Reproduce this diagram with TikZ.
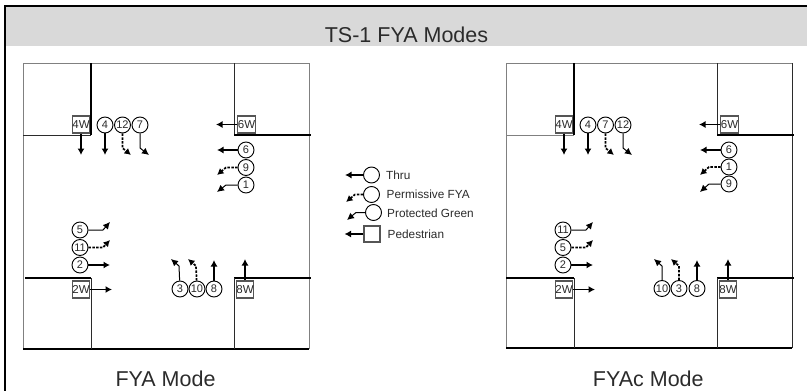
\documentclass[tikz,border=0pt]{standalone}
\usepackage{fontspec}
\setmainfont{Liberation Sans}
\usetikzlibrary{arrows.meta}
\definecolor{bandgray}{HTML}{D9D9D9}
\definecolor{inkgray}{HTML}{2B2B2B}
\definecolor{edgegray}{HTML}{808080}
\definecolor{boxgray}{HTML}{555555}
\tikzset{
    signal/.style={circle, draw=black, line width=0.9pt, fill=white, minimum size=16pt, inner sep=0pt, text=inkgray, font=\fontsize{11}{13}\selectfont},
    walk/.style={rectangle, draw=boxgray, line width=1.2pt, fill=white, minimum size=17pt, inner sep=0pt, text=inkgray, font=\fontsize{11.5}{13}\selectfont},
    thru/.style={line width=1.9pt, -{Latex[length=6.5pt,width=7pt]}},
    permissive/.style={line width=1.7pt, dash pattern=on 2.5pt off 1.3pt, -{Latex[length=6.5pt,width=7pt]}},
    protected/.style={line width=1pt, -{Latex[length=7pt,width=7pt]}},
    heavywall/.style={line width=1.7pt, black},
    lightwall/.style={line width=1pt, inkgray},
    paleedge/.style={line width=1pt, edgegray},
    legendtext/.style={anchor=west, inner sep=0pt, text=inkgray, font=\fontsize{11.8}{14}\selectfont},
    captiontext/.style={text=inkgray, font=\fontsize{21.5}{25}\selectfont}
}
\begin{document}
\begin{tikzpicture}[x=1pt, y=-1pt]
    \useasboundingbox (0,0) rectangle (807,391);

    \fill [bandgray] (6,7) rectangle (807,46);
    \draw [line width=2pt, black] (5,391) -- (5,6) -- (807,6);
    \node [captiontext] (title) at (406.5,34.5) {TS-1 FYA Modes};

    % left intersection
    \begin{scope}[name prefix=fya-]
        \draw [paleedge] (23,349) -- (23,63) -- (309,63) -- (309,349);
        \draw [heavywall] (23,349) -- (309,349);
        \draw [heavywall] (91,63) -- (91,135);
        \draw [lightwall] (23,135) -- (91,135);
        \draw [lightwall] (234,63) -- (234,135);
        \draw [heavywall] (234,135) -- (311,135);
        \draw [heavywall] (25,278) -- (91,278);
        \draw [heavywall] (234,278) -- (311,278);
        \draw [lightwall] (91,278) -- (91,349);
        \draw [lightwall] (234,278) -- (234,349);

        \node [walk] (w4) at (81,124.5) {4W};
        \node [walk] (w6) at (246.5,124.5) {6W};
        \node [walk] (w2) at (81,289.5) {2W};
        \node [walk] (w8) at (245,289.5) {8W};

        \node [signal] (four) at (105,125) {4};
        \node [signal] (twelve) at (122.5,125) {12};
        \node [signal] (seven) at (140,125) {7};
        \node [signal] (six) at (246,150) {6};
        \node [signal] (nine) at (246,167.5) {9};
        \node [signal] (one) at (246,185) {1};
        \node [signal] (five) at (80,230) {5};
        \node [signal] (eleven) at (80,247.5) {11};
        \node [signal] (two) at (80,265) {2};
        \node [signal] (three) at (180,289) {3};
        \node [signal] (ten) at (197,289) {10};
        \node [signal] (eight) at (214,289) {8};

        \coordinate (w4end) at (81,155);
        \coordinate (w6end) at (216,124.5);
        \coordinate (w2end) at (112,289.5);
        \coordinate (w8end) at (245,259);
        \coordinate (fourend) at (105,155);
        \coordinate (twelvebend) at (122.5,148);
        \coordinate (twelveend) at (131,155);
        \coordinate (sevenbend) at (140,148);
        \coordinate (sevenend) at (149,155);
        \coordinate (sixend) at (217,150);
        \coordinate (ninebend) at (226,167.5);
        \coordinate (nineend) at (217,175);
        \coordinate (onebend) at (226,185);
        \coordinate (oneend) at (217,192);
        \coordinate (fivebend) at (103,230);
        \coordinate (fiveend) at (110,222);
        \coordinate (elevenbend) at (103,247.5);
        \coordinate (elevenend) at (110,240);
        \coordinate (twoend) at (110,265);
        \coordinate (threebend) at (179,266);
        \coordinate (threeend) at (171,259);
        \coordinate (tenbend) at (196,266);
        \coordinate (tenend) at (188,259);
        \coordinate (eightend) at (214,260);

        \draw [thru] (w4) -- (w4end);
        \draw [thru] (w6) -- (w6end);
        \draw [thru] (w2) -- (w2end);
        \draw [thru] (w8) -- (w8end);
        \draw [thru] (four) -- (fourend);
        \draw [permissive] (twelve) -- (twelvebend) -- (twelveend);
        \draw [protected] (seven) -- (sevenbend) -- (sevenend);
        \draw [thru] (six) -- (sixend);
        \draw [permissive] (nine) -- (ninebend) -- (nineend);
        \draw [protected] (one) -- (onebend) -- (oneend);
        \draw [protected] (five) -- (fivebend) -- (fiveend);
        \draw [permissive] (eleven) -- (elevenbend) -- (elevenend);
        \draw [thru] (two) -- (twoend);
        \draw [protected] (three) -- (threebend) -- (threeend);
        \draw [permissive] (ten) -- (tenbend) -- (tenend);
        \draw [thru] (eight) -- (eightend);

        \node [captiontext] (caption) at (165.5,378.5) {FYA Mode};
    \end{scope}

    % legend
    \node [signal] (thrucircle) at (371.5,175) {};
    \node [signal] (permcircle) at (371.5,194.5) {};
    \node [signal] (protcircle) at (373.5,212.5) {};
    \node [walk, minimum size=16pt] (pedbox) at (372,234) {};
    \coordinate (thruend) at (345,175);
    \coordinate (permbend) at (355,194.5);
    \coordinate (permend) at (346,202);
    \coordinate (protbend) at (356,212.5);
    \coordinate (protend) at (347,220);
    \coordinate (pedend) at (344.5,234);
    \draw [thru] (thrucircle) -- (thruend);
    \draw [permissive] (permcircle) -- (permbend) -- (permend);
    \draw [protected] (protcircle) -- (protbend) -- (protend);
    \draw [thru] (pedbox) -- (pedend);
    \node [legendtext] (thrutext) at (386,175) {Thru};
    \node [legendtext] (permtext) at (386.5,194) {Permissive FYA};
    \node [legendtext] (prottext) at (387,213) {Protected Green};
    \node [legendtext] (pedtext) at (387.5,234) {Pedestrian};

    % right intersection
    \begin{scope}[xshift=483pt, name prefix=fyac-]
        \draw [paleedge] (23,348) -- (23,63) -- (309,63);
        \draw [lightwall] (309,63) -- (309,348);
        \draw [heavywall] (23,348) -- (309,348);
        \draw [heavywall] (91,63) -- (91,135);
        \draw [paleedge] (23,135) -- (91,135);
        \draw [lightwall] (234,63) -- (234,135);
        \draw [heavywall] (234,135) -- (311,135);
        \draw [heavywall] (23,278) -- (91,278);
        \draw [heavywall] (234,278) -- (311,278);
        \draw [lightwall] (91,278) -- (91,348);
        \draw [lightwall] (234,278) -- (234,348);

        \node [walk] (w4) at (81,124.5) {4W};
        \node [walk] (w6) at (246.5,124.5) {6W};
        \node [walk] (w2) at (81,289.5) {2W};
        \node [walk] (w8) at (245,289.5) {8W};

        \node [signal] (four) at (105,125) {4};
        \node [signal] (seven) at (122.5,125) {7};
        \node [signal] (twelve) at (140,125) {12};
        \node [signal] (six) at (246,150) {6};
        \node [signal] (one) at (246,167) {1};
        \node [signal] (nine) at (246,184) {9};
        \node [signal] (eleven) at (80,230) {11};
        \node [signal] (five) at (80,247.5) {5};
        \node [signal] (two) at (80,265) {2};
        \node [signal] (ten) at (179,288.5) {10};
        \node [signal] (three) at (196,288.5) {3};
        \node [signal] (eight) at (214,288.5) {8};

        \coordinate (w4end) at (81,155);
        \coordinate (w6end) at (216,124.5);
        \coordinate (w2end) at (112,289.5);
        \coordinate (w8end) at (245,259);
        \coordinate (fourend) at (105,155);
        \coordinate (sevenbend) at (122.5,148);
        \coordinate (sevenend) at (131,155);
        \coordinate (twelvebend) at (140,148);
        \coordinate (twelveend) at (149,155);
        \coordinate (sixend) at (217,150);
        \coordinate (onebend) at (226,167);
        \coordinate (oneend) at (217,175);
        \coordinate (ninebend) at (226,184);
        \coordinate (nineend) at (217,192);
        \coordinate (elevenbend) at (103,230);
        \coordinate (elevenend) at (110,222);
        \coordinate (fivebend) at (103,247.5);
        \coordinate (fiveend) at (110,240);
        \coordinate (twoend) at (110,265);
        \coordinate (tenbend) at (179,266);
        \coordinate (tenend) at (171,259);
        \coordinate (threebend) at (196,266);
        \coordinate (threeend) at (188,259);
        \coordinate (eightend) at (214,260);

        \draw [thru] (w4) -- (w4end);
        \draw [thru] (w6) -- (w6end);
        \draw [thru] (w2) -- (w2end);
        \draw [thru] (w8) -- (w8end);
        \draw [thru] (four) -- (fourend);
        \draw [permissive] (seven) -- (sevenbend) -- (sevenend);
        \draw [protected] (twelve) -- (twelvebend) -- (twelveend);
        \draw [thru] (six) -- (sixend);
        \draw [permissive] (one) -- (onebend) -- (oneend);
        \draw [protected] (nine) -- (ninebend) -- (nineend);
        \draw [protected] (eleven) -- (elevenbend) -- (elevenend);
        \draw [permissive] (five) -- (fivebend) -- (fiveend);
        \draw [thru] (two) -- (twoend);
        \draw [protected] (ten) -- (tenbend) -- (tenend);
        \draw [permissive] (three) -- (threebend) -- (threeend);
        \draw [thru] (eight) -- (eightend);

        \node [captiontext] (caption) at (165.3,378.5) {FYAc Mode};
    \end{scope}
\end{tikzpicture}
\end{document}
